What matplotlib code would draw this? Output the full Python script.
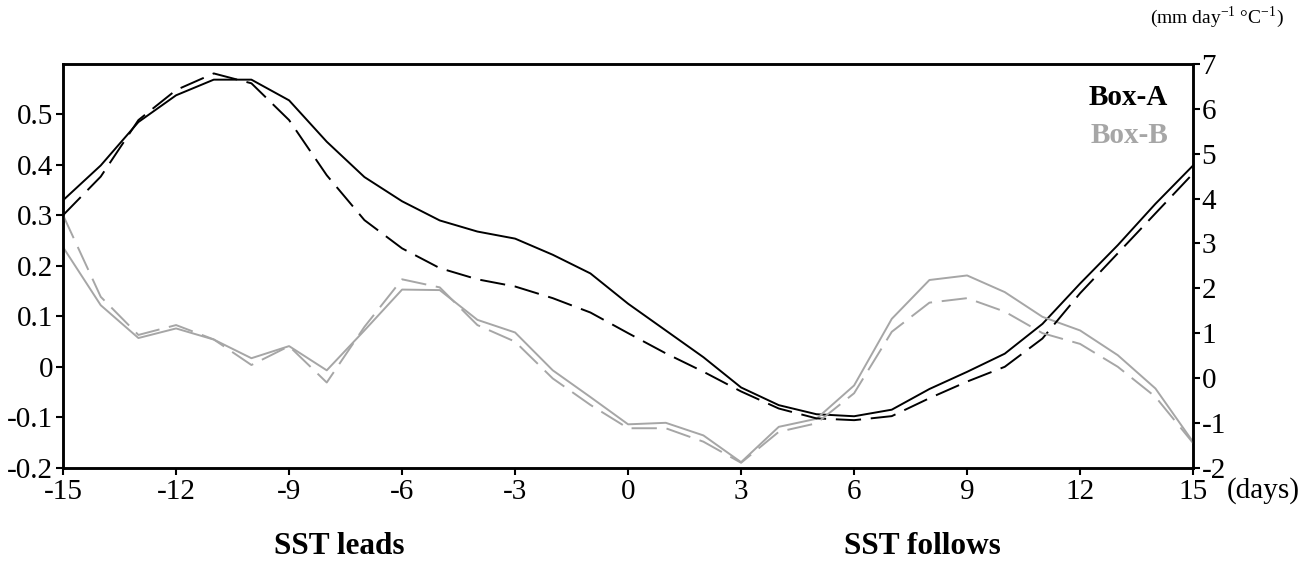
import matplotlib
matplotlib.use("Agg")
import matplotlib.pyplot as plt

plt.rcParams['font.family'] = ['Liberation Serif', 'DejaVu Serif']
plt.rcParams['axes.unicode_minus'] = False
plt.rcParams['mathtext.fontset'] = 'custom'
plt.rcParams['mathtext.rm'] = 'Liberation Serif'

# lag in days (negative: SST leads)
days = list(range(-15, 16))

# correlation (left axis)
box_a_corr = [0.330, 0.399, 0.485, 0.538, 0.569, 0.569, 0.528, 0.446, 0.376, 0.328,
              0.290, 0.268, 0.254, 0.222, 0.185, 0.125, 0.072, 0.019, -0.041, -0.076,
              -0.094, -0.098, -0.085, -0.044, -0.010, 0.026, 0.085, 0.165, 0.241, 0.323,
              0.399]
box_b_corr = [0.237, 0.122, 0.057, 0.076, 0.054, 0.017, 0.041, -0.007, 0.072, 0.153,
              0.152, 0.093, 0.068, -0.007, -0.060, -0.114, -0.111, -0.136, -0.189, -0.119,
              -0.103, -0.037, 0.095, 0.172, 0.181, 0.148, 0.099, 0.072, 0.023, -0.043,
              -0.149]

# regression, mm day-1 C-1 (right axis)
box_a_reg = [3.63, 4.49, 5.75, 6.42, 6.79, 6.57, 5.75, 4.52, 3.52, 2.89,
             2.45, 2.20, 2.04, 1.78, 1.46, 1.00, 0.55, 0.14, -0.30, -0.68,
             -0.90, -0.94, -0.85, -0.45, -0.08, 0.25, 0.88, 1.89, 2.78, 3.67,
             4.56]
box_b_reg = [3.63, 1.81, 0.96, 1.18, 0.86, 0.29, 0.71, -0.10, 1.14, 2.20,
             2.02, 1.18, 0.81, -0.01, -0.60, -1.12, -1.12, -1.42, -1.89, -1.20,
             -1.01, -0.34, 1.03, 1.68, 1.78, 1.48, 1.00, 0.76, 0.25, -0.42,
             -1.45]

xticks = list(range(-15, 16, 3))
left_ticks = [-0.2, -0.1, 0, 0.1, 0.2, 0.3, 0.4, 0.5]
left_labels = ['-0.2', '-0.1', '0', '0.1', '0.2', '0.3', '0.4', '0.5']
right_ticks = list(range(-2, 8))

black = '#000000'
gray = '#A6A6A6'

fig = plt.figure(figsize=(13.14, 5.69), dpi=100)
ax = fig.add_axes([0.048, 0.178, 0.860, 0.7095])
ax2 = ax.twinx()

ax.plot(days, box_a_corr, color=black, lw=1.4)
ax.plot(days, box_b_corr, color=gray, lw=1.4)
ax2.plot(days, box_a_reg, color=black, lw=1.4, dashes=(13, 5))
ax2.plot(days, box_b_reg, color=gray, lw=1.4, dashes=(13, 5))

ax.set_xlim(-15, 15)
ax.set_ylim(-0.2, 0.6)
ax2.set_ylim(-2, 7)

ax.set_xticks(xticks)
ax.set_xticklabels([str(t) for t in xticks])
ax.set_yticks(left_ticks)
ax.set_yticklabels(left_labels)
ax2.set_yticks(right_ticks)
ax2.set_yticklabels([str(t) for t in right_ticks])

for a in (ax, ax2):
    for s in a.spines.values():
        s.set_linewidth(1.8)
    a.tick_params(direction='out', length=5, width=1.5, labelsize=21, pad=2)
ax.tick_params(axis='x', pad=3)
ax2.tick_params(axis='y', pad=1)

fig.text(1227 / 1314, 1 - 491 / 569, '(days)', fontsize=21,
         ha='left', va='center')
fig.text(0.977, 0.970, '(mm day$^{-1}$ °C$^{-1}$)', fontsize=14,
         ha='right', va='center')

ax.text(0.978, 0.918, 'Box-A', transform=ax.transAxes, fontsize=21,
        fontweight='bold', color=black, ha='right', va='center')
ax.text(0.978, 0.822, 'Box-B', transform=ax.transAxes, fontsize=21,
        fontweight='bold', color=gray, ha='right', va='center')

fig.text(0.258, 0.039, 'SST leads', fontsize=22.5, fontweight='bold',
         ha='center', va='center')
fig.text(0.702, 0.039, 'SST follows', fontsize=22.5, fontweight='bold',
         ha='center', va='center')

fig.savefig('out.png', dpi=100)
